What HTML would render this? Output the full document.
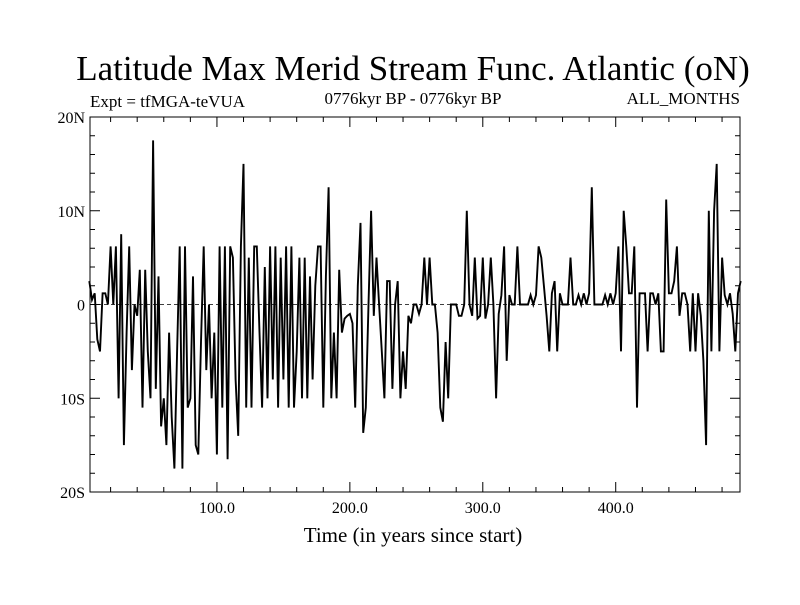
<!DOCTYPE html>
<html><head><meta charset="utf-8"><style>
body{margin:0;background:#fff;}
svg text{font-family:"Liberation Serif",serif;fill:#000;}
</style></head><body>
<svg id="chart" width="800" height="600" xmlns="http://www.w3.org/2000/svg">
<rect width="800" height="600" fill="#fff"/>
<text x="413" y="80" font-size="35" text-anchor="middle">Latitude Max Merid Stream Func. Atlantic (oN)</text>
<text x="90" y="107" font-size="17">Expt = tfMGA-teVUA</text>
<text x="413" y="104" font-size="17" text-anchor="middle">0776kyr BP - 0776kyr BP</text>
<text x="740" y="104" font-size="17" text-anchor="end">ALL_MONTHS</text>
<text x="413" y="542" font-size="21" text-anchor="middle">Time (in years since start)</text>
<g id="axes"></g>
<g id="series"></g>
<rect x="90" y="117" width="650" height="375" fill="none" stroke="#000" stroke-width="1"/>
</svg>
<script>
const startYear = 4;
const yearStep = 2;
const values = [
2.5,0.5,1.2,-3.7,-5,1.2,1.2,0,6.2,0,
6.2,-10,7.5,-15,-3,6.2,-7,0,-1.2,3.7,
-11,3.7,-5,-10,17.5,-9,3,-13,-10,-15,
-3,-12,-17.5,-5,6.2,-17.5,6.2,-11,-10,3,
-15,-16,-4,6.2,-7,0,-10,-3,-16,6.2,
-11,6.2,-16.5,6.2,5,-8,-14,6.2,15,-11,
5,-11,6.2,6.2,-3,-11,4,-10,6.2,-8,
6.2,-11,5,-8,6.2,-11,6.2,-11,-5,5,
-10,5,-10,3,-8,2,6.2,6.2,-11,3,
12.5,-10,-3,-10,3.7,-3,-1.5,-1.2,-1,-2,
-11,2,8.7,-13.7,-11,0,10,-1.2,5,0,
-5,-10,2.5,2.5,-9,0,2.5,-10,-5,-9,
-1.2,-2,0,0,-1,0,5,0,5,0,
0,-3,-11,-12.5,-4,-10,0,0,0,-1.2,
-1.2,0,10,0,-1.2,5,-1.5,-1.2,5,-1.5,
0,5,0,-10,-1,1,6.2,-6,1,0,
0,6.2,0,0,0,0,1,0,1,6.2,
5,2,-1.2,-5,1.2,2.5,-5,1.2,0,0,
0,5,0,0,1,0,1.2,0,1.2,12.5,
0,0,0,0,1,0,1.2,0,1.2,6.2,
-5,10,6.2,1.2,1.2,6.2,-11,1.2,1.2,1.2,
-5,1.2,1.2,0,1.2,-5,-5,11.2,1.2,1.2,
2.5,6.2,-1.2,1.2,1.2,0,-5,1.2,-5,1.2,
-1.2,-6,-15,10,-5,10,15,-5,5,1,
0,1.2,-1,-5,1.2,2.5
];
const yTickValues = [20,10,0,-10,-20];
const yTickLabels = ["20N","10N","0","10S","20S"];
const xTickValues = [100,200,300,400];
const xTickLabels = ["100.0","200.0","300.0","400.0"];

const X0=90,X1=740,Y0=492,Y1=117,XMIN=4.5,XMAX=493.5,YMIN=-20,YMAX=20;
function sx(v){return X0+(v-XMIN)/(XMAX-XMIN)*(X1-X0);}
function sy(v){return Y0-(v-YMIN)/(YMAX-YMIN)*(Y0-Y1);}
const NS="http://www.w3.org/2000/svg";
const axes=document.getElementById('axes');
function mk(tag,attrs,parent){const e=document.createElementNS(NS,tag);for(const k in attrs)e.setAttribute(k,attrs[k]);parent.appendChild(e);return e;}
const z=mk('line',{x1:X0,x2:X1,y1:sy(0),y2:sy(0),stroke:'#000','stroke-width':0.8,'stroke-dasharray':'4,3'},axes);


for(let v=YMIN;v<=YMAX;v+=2){
  const big=(v%10===0);
  const l=mk('line',{x1:X0,x2:X0+(big?10:5),y1:sy(v),y2:sy(v),stroke:'#000','stroke-width':1},axes);
  
  
  const r=mk('line',{x1:X1,x2:X1-(big?10:5),y1:sy(v),y2:sy(v),stroke:'#000','stroke-width':1},axes);
  
  
}
yTickValues.forEach((v,i)=>{
  const t=mk('text',{x:X0-5,y:sy(v)+6,'font-size':16,'text-anchor':'end'},axes);
  t.textContent=yTickLabels[i];
  
  
});
for(let v=20;v<=480;v+=20){
  const big=(v%100===0);
  const l=mk('line',{x1:sx(v),x2:sx(v),y1:Y0,y2:Y0-(big?10:5),stroke:'#000','stroke-width':1},axes);
  
  
  const t2=mk('line',{x1:sx(v),x2:sx(v),y1:Y1,y2:Y1+(big?10:5),stroke:'#000','stroke-width':1},axes);
  
  
}
xTickValues.forEach((v,i)=>{
  const t=mk('text',{x:sx(v),y:Y0+21,'font-size':16,'text-anchor':'middle'},axes);
  t.textContent=xTickLabels[i];
  
  
});
const pts=values.map((v,i)=>sx(startYear+i*yearStep).toFixed(1)+','+sy(v).toFixed(1)).join(' ');
const line=mk('polyline',{points:pts,fill:'none',stroke:'#000','stroke-width':1.9,'stroke-linejoin':'miter'},document.getElementById('series'));


</script>
</body></html>
